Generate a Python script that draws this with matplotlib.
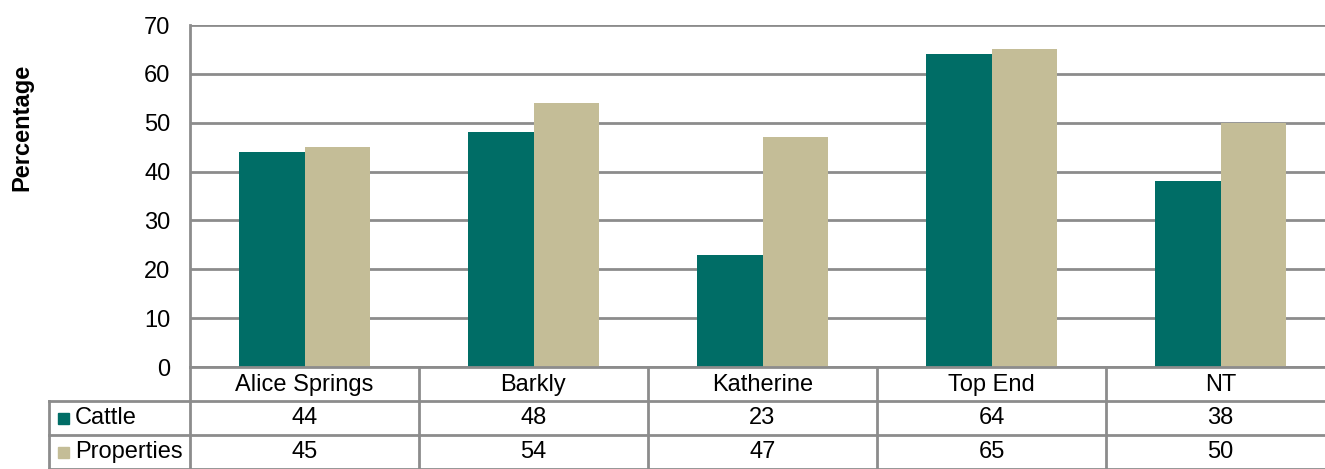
import numpy as np
import matplotlib
matplotlib.use("Agg")
from matplotlib import pyplot as plt
from matplotlib.lines import Line2D
from matplotlib.patches import Rectangle

regions = ["Alice Springs", "Barkly", "Katherine", "Top End", "NT"]
series = ["Cattle", "Properties"]
cattle = [44, 48, 23, 64, 38]
properties = [45, 54, 47, 65, 50]
colors = ["#006D66", "#C4BD97"]
yticks = [0, 10, 20, 30, 40, 50, 60, 70]

plt.rcParams['font.family'] = ['Liberation Sans', 'DejaVu Sans']

W, H = 1325, 469
fig = plt.figure(figsize=(W / 100, H / 100), dpi=100)


def fx(px):
    return px / W


def fy(py):
    return 1 - py / H


# plot area in pixels (right edge runs past the image)
left, right, top, bottom = 190, 1335, 25, 367
ax = fig.add_axes([fx(left), fy(bottom), fx(right - left), (bottom - top) / H])

x = np.arange(len(regions))
bw = 0.284
ax.bar(x - bw / 2, cattle, bw, color=colors[0], zorder=3)
ax.bar(x + bw / 2, properties, bw, color=colors[1], zorder=3)

ax.set_xlim(-0.5, len(regions) - 0.5)
ax.set_ylim(0, 70)
ax.set_yticks(yticks)
ax.set_yticklabels([str(t) for t in yticks], fontsize=17)
ax.tick_params(axis='y', length=0, pad=14)
ax.set_xticks([])
ax.grid(axis='y', color='#8C8C8C', linewidth=2, zorder=0)
for s in ['top', 'right', 'bottom']:
    ax.spines[s].set_visible(False)
ax.spines['left'].set_color('#8C8C8C')
ax.spines['left'].set_linewidth(2)

fig.text(fx(22), fy(127), "Percentage", rotation=90, fontsize=17, fontweight='bold',
         ha='center', va='center')

# data table below the axis
gc = '#8C8C8C'
lw = 2
row_lines = [367, 401, 435, 469]
fig.add_artist(Line2D([fx(left), fx(right)], [fy(367)] * 2, color=gc, lw=lw))
for py in row_lines[1:]:
    fig.add_artist(Line2D([fx(49), fx(right)], [fy(py)] * 2, color=gc, lw=lw))
fig.add_artist(Line2D([fx(49)] * 2, [fy(401), fy(469)], color=gc, lw=lw))
fig.add_artist(Line2D([fx(left)] * 2, [fy(367), fy(469)], color=gc, lw=lw))
col_w = (right - left) / len(regions)
for i in range(1, len(regions) + 1):
    px = left + i * col_w
    fig.add_artist(Line2D([fx(px)] * 2, [fy(367), fy(469)], color=gc, lw=lw))

for i, name in enumerate(regions):
    cx = fx(left + (i + 0.5) * col_w)
    fig.text(cx, fy(385), name, ha='center', va='center', fontsize=17)
    fig.text(cx, fy(418), str(cattle[i]), ha='center', va='center', fontsize=17)
    fig.text(cx, fy(452), str(properties[i]), ha='center', va='center', fontsize=17)

for j, (name, c) in enumerate(zip(series, colors)):
    cy = 418 + j * 34
    fig.add_artist(Rectangle((fx(58), fy(cy + 6)), fx(11), 11 / H, color=c))
    fig.text(fx(75), fy(cy), name, ha='left', va='center', fontsize=17)

fig.savefig("out.png", dpi=100)
